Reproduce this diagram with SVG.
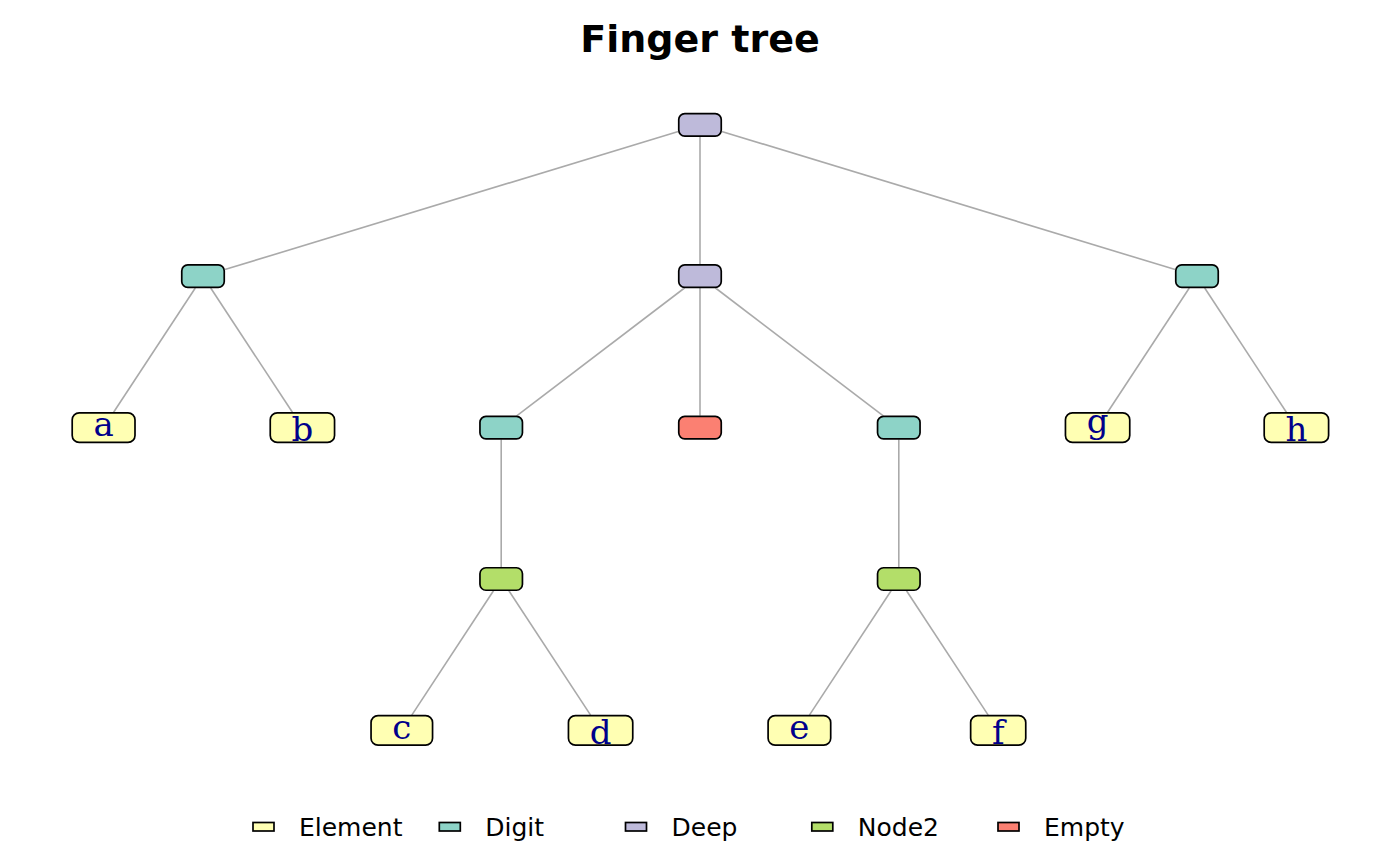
<svg xmlns="http://www.w3.org/2000/svg" width="1400" height="866" viewBox="0 0 1400 866">
<style>
.box{stroke:#000;stroke-width:1.7}
.el{fill:#FFFFB3}
.dg{fill:#8DD3C7}
.dp{fill:#BEBADA}
.n2{fill:#B3DE69}
.em{fill:#FB8072}
.lbl{font-family:"DejaVu Serif",serif;font-size:34px;fill:#00008B;text-anchor:middle}
.leg{font-family:"DejaVu Sans",sans-serif;font-size:25px;fill:#000}
.title{font-family:"DejaVu Sans",sans-serif;font-size:38px;font-weight:bold;text-anchor:middle;fill:#000}
#edges line{stroke:#AAAAAA;stroke-width:1.6}
</style>
<rect width="1400" height="866" fill="#fff"/>
<text class="title" x="700" y="52">Finger tree</text>
<g id="edges">
<line x1="678.3" y1="131.4" x2="224.8" y2="269.6"/>
<line x1="721.7" y1="131.4" x2="1175.2" y2="269.6"/>
<line x1="700" y1="136.6" x2="700" y2="264.4"/>
<line x1="195.3" y1="288" x2="113.6" y2="412.3"/>
<line x1="210.7" y1="288" x2="292.4" y2="412.3"/>
<line x1="684.5" y1="288" x2="516.7" y2="415.8"/>
<line x1="700" y1="288" x2="700" y2="415.8"/>
<line x1="715.5" y1="288" x2="883.3" y2="415.8"/>
<line x1="1189.3" y1="288" x2="1107.6" y2="412.3"/>
<line x1="1204.7" y1="288" x2="1286.4" y2="412.3"/>
<line x1="501.2" y1="439.4" x2="501.2" y2="567.2"/>
<line x1="493.5" y1="590.8" x2="411.8" y2="715.1"/>
<line x1="508.9" y1="590.8" x2="590.6" y2="715.1"/>
<line x1="898.8" y1="439.4" x2="898.8" y2="567.2"/>
<line x1="891.1" y1="590.8" x2="809.4" y2="715.1"/>
<line x1="906.5" y1="590.8" x2="988.2" y2="715.1"/>
</g>
<g id="root"><rect class="box dp" x="678.75" y="113.55" width="42.5" height="22.5" rx="6"/></g>
<g id="digitL"><rect class="box dg" x="181.75" y="264.95" width="42.5" height="22.5" rx="6"/></g>
<g id="deep2"><rect class="box dp" x="678.75" y="264.95" width="42.5" height="22.5" rx="6"/></g>
<g id="digitR"><rect class="box dg" x="1175.75" y="264.95" width="42.5" height="22.5" rx="6"/></g>
<g id="a"><rect class="box el" x="72.2" y="412.8" width="62.8" height="29.6" rx="7"/><text class="lbl" x="103.6" y="436.4">a</text></g>
<g id="b"><rect class="box el" x="270.25" y="412.8" width="64.3" height="29.6" rx="7"/><text class="lbl" x="302.4" y="440.8">b</text></g>
<g id="digit2L"><rect class="box dg" x="479.95" y="416.35" width="42.5" height="22.5" rx="6"/></g>
<g id="empty"><rect class="box em" x="678.75" y="416.35" width="42.5" height="22.5" rx="6"/></g>
<g id="digit2R"><rect class="box dg" x="877.55" y="416.35" width="42.5" height="22.5" rx="6"/></g>
<g id="g"><rect class="box el" x="1065.45" y="412.8" width="64.3" height="29.6" rx="7"/><text class="lbl" x="1097.6" y="433">g</text></g>
<g id="h"><rect class="box el" x="1264.2" y="412.8" width="64.4" height="29.6" rx="7"/><text class="lbl" x="1296.4" y="440.8">h</text></g>
<g id="node2L"><rect class="box n2" x="479.95" y="567.75" width="42.5" height="22.5" rx="6"/></g>
<g id="node2R"><rect class="box n2" x="877.55" y="567.75" width="42.5" height="22.5" rx="6"/></g>
<g id="c"><rect class="box el" x="371.05" y="715.6" width="61.5" height="29.6" rx="7"/><text class="lbl" x="401.8" y="739.2">c</text></g>
<g id="d"><rect class="box el" x="568.45" y="715.6" width="64.3" height="29.6" rx="7"/><text class="lbl" x="600.6" y="743.6">d</text></g>
<g id="e"><rect class="box el" x="768.1" y="715.6" width="62.6" height="29.6" rx="7"/><text class="lbl" x="799.4" y="739.2">e</text></g>
<g id="f"><rect class="box el" x="970.65" y="715.6" width="55.1" height="29.6" rx="7"/><text class="lbl" x="998.2" y="743.6">f</text></g>
<g id="legend">
<rect class="box el" x="253" y="822.5" width="21" height="8.5"/><text class="leg" x="299" y="836">Element</text>
<rect class="box dg" x="439.3" y="822.5" width="21" height="8.5"/><text class="leg" x="485.3" y="836">Digit</text>
<rect class="box dp" x="625.5" y="822.5" width="21" height="8.5"/><text class="leg" x="671.5" y="836">Deep</text>
<rect class="box n2" x="811.8" y="822.5" width="21" height="8.5"/><text class="leg" x="857.8" y="836">Node2</text>
<rect class="box em" x="998" y="822.5" width="21" height="8.5"/><text class="leg" x="1044" y="836">Empty</text>
</g>
</svg>
